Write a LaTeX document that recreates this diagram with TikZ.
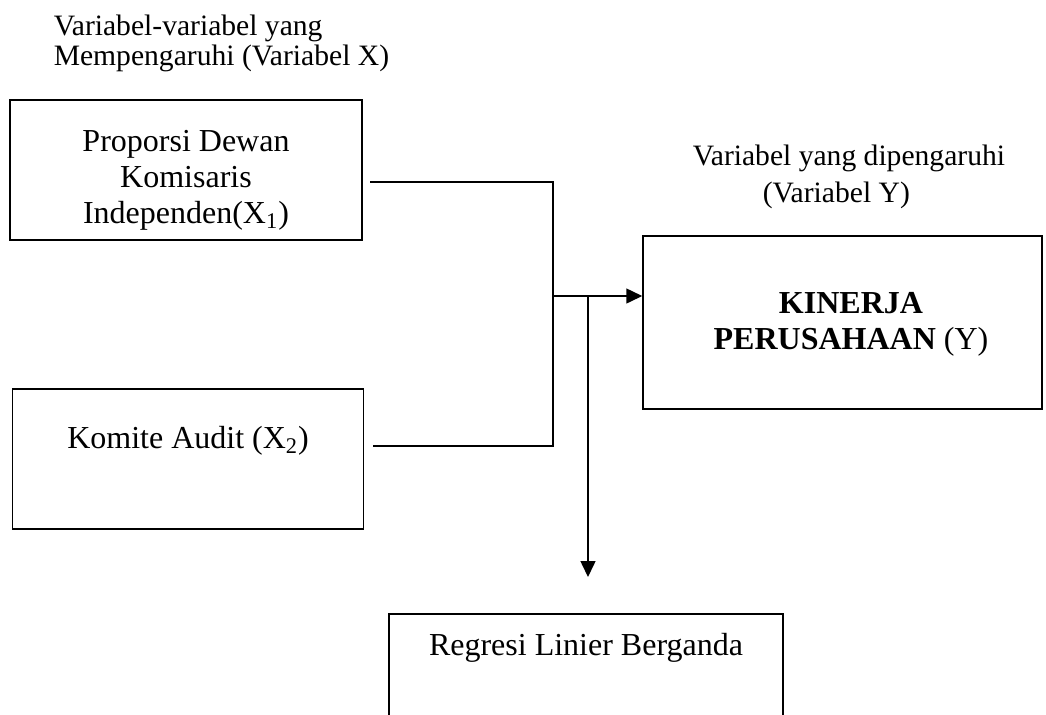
\documentclass[tikz,border=0pt]{standalone}
\usepackage{fontspec}
\setmainfont{Liberation Serif}
\usetikzlibrary{arrows.meta}

\tikzset{
	kotak/.style={draw, inner sep=0pt},
	isi/.style={align=center, inner sep=0pt, font=\fontsize{16}{18}\selectfont},
	judul/.style={anchor=base west, inner sep=0pt, font=\fontsize{14.8}{15}\selectfont},
	panah/.style={-{Triangle[length=8pt,width=7.5pt]}}
}

\begin{document}
\begin{tikzpicture}[x=0.5pt, y=-0.5pt, line width=0.75pt]
			%%%%% START %%%%%
			\useasboundingbox (0,0) rectangle (1046,714);
			
			% judul variabel
			\node[judul] (hx1) at (53,35) {Variabel-variabel yang};
			\node[judul] (hx2) at (53,65) {Mempengaruhi (Variabel X)};
			\node[judul] (hy1) at (692,165) {Variabel yang dipengaruhi};
			\node[judul] (hy2) at (762,202) {(Variabel Y)};
			
			% kotak X1 dan X2
			\node[kotak, minimum width=176pt, minimum height=70pt] (x1) at (186,170) {};
			\node[isi] (x1t) at (186,180) {Proporsi Dewan\\Komisaris\\Independen(X\textsubscript{1})};
			
			\node[kotak, minimum width=175.5pt, minimum height=70pt] (x2) at (188,459) {};
			\node[isi] (x2t) at (188,441) {Komite Audit (X\textsubscript{2})};
			
			% kotak Y
			\node[kotak, minimum width=199.5pt, minimum height=86.5pt] (y) at (842.5,322.5) {};
			\node[isi] (yt) at (851,324) {\textbf{KINERJA}\\\textbf{PERUSAHAAN} (Y)};
			
			% kotak regresi (terpotong di bawah)
			\draw (389,716) |- (783,614) -- (783,716);
			\node[isi] (reg) at (586,648) {Regresi Linier Berganda};
			
			% garis penghubung
			\coordinate (a1) at (370,182);
			\coordinate (a2) at (373,446);
			\coordinate (j) at (553,296);
			\coordinate (t) at (588,296);
			\coordinate (b) at (588,577);
			
			\draw (a1) -| (j |- a2) -- (a2);
			\draw[panah] (j) -- (j -| y.west);
			\draw[panah] (t) -- (b);
			
			%%%%% END %%%%%
\end{tikzpicture}
\end{document}
